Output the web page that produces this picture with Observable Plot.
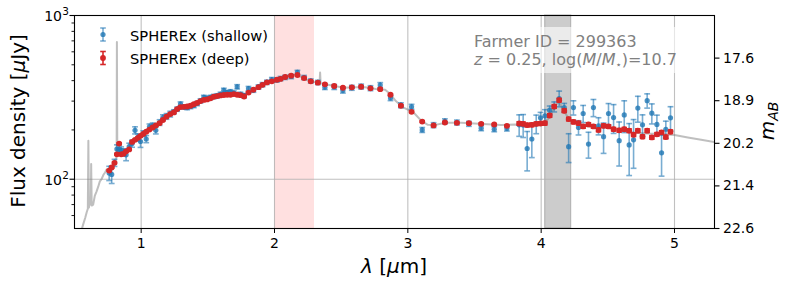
<!DOCTYPE html>
<html>
<head>
<meta charset="utf-8">
<script src="https://cdn.jsdelivr.net/npm/d3@7"></script>
<script src="https://cdn.jsdelivr.net/npm/@observablehq/plot@0.6"></script>
<style>
  body { margin: 0; background: #fff; }
  #chart { width: 788px; height: 289px; }
  svg { overflow: visible; }
</style>
</head>
<body>
<div id="chart"></div>
<script>
// ---------- data ----------
const wavelength = [
  0.760,0.779,0.800,0.818,0.835,0.850,0.867,0.887,0.910,0.932,0.954,0.976,0.995,1.016,1.038,1.062,1.086,1.110,
  1.138,1.163,1.190,1.218,1.245,1.270,1.295,1.320,1.345,1.370,1.395,1.420,1.445,1.470,1.495,1.520,1.545,1.570,1.595,1.620,
  1.645,1.670,1.695,1.720,1.745,1.772,1.805,1.842,1.880,1.910,1.943,1.980,2.018,2.045,2.080,2.125,2.172,2.222,2.272,2.325,2.378,
  2.448,2.513,2.580,2.650,2.720,2.793,2.870,2.948,3.028,3.108,3.193,3.278,3.368,3.458,3.550,3.648,3.743,
  3.835,3.865,3.895,3.930,3.963,3.995,4.028,4.064,4.098,4.135,4.173,4.206,4.242,4.280,4.315,4.355,4.392,4.430,
  4.468,4.505,4.543,4.585,4.623,4.660,4.693,4.725,4.760,4.795,4.830,4.868,4.903,4.935,4.970
];
const deepFlux = [
  113,118,126,142,165,142,143,148,152,169,174,179,184,189,195,201,207,213,
  220,230,241,250,256,268,276,277,278,281,287,293,300,305,307,312,319,322,325,327,
  328,328,331,328,326,320,338,352,365,377,390,396,405,410,421,429,433,415,396,389,380,
  371,362,364,367,359,355,328,281,258,225,213,222,221,220,218,216,212,
  219,218,214,215,218,219,220,245,278,304,262,233,224,220,210,216,210,200,
  212,210,202,199,202,198,187,198,182,198,180,188,193,181,195
];
const deepErrFrac = [
  .012,.012,.012,.012,.012,.012,.012,.012,.012,.012,.012,.012,.012,.012,.012,.012,.012,.012,
  .012,.012,.012,.012,.012,.012,.012,.012,.012,.012,.012,.012,.012,.012,.012,.012,.012,.012,.012,.012,
  .012,.012,.012,.012,.012,.012,.012,.012,.012,.012,.012,.012,.012,.012,.012,.012,.012,.012,.012,.012,.012,
  .012,.012,.012,.012,.012,.012,.012,.012,.012,.012,.012,.012,.012,.012,.012,.012,.012,
  .025,.025,.025,.025,.025,.025,.025,.025,.025,.025,.025,.025,.025,.025,.025,.025,.025,.025,
  .025,.025,.025,.025,.025,.025,.025,.025,.025,.025,.025,.025,.025,.025,.025
];
const shallowFlux = [
  109,107,126,153,152,150,146,141,158,165,199,180,170,190,176,209,212,199,
  222,238,242,250,258,268,288,276,274,278,282,290,301,316,312,316,320,323,330,349,
  338,342,336,367,330,324,358,350,366,378,391,406,404,412,419,424,449,418,398,390,364,
  366,348,362,368,360,376,313,283,277,200,214,226,222,218,205,202,204,
  215,214,154,176,218,237,244,264,277,311,274,158,274,207,252,164,274,212,
  182,252,238,172,247,162,174,272,215,302,253,216,145,202,237
];
const shallowErrFrac = [
  .10,.12,.05,.06,.06,.05,.05,.08,.05,.05,.05,.05,.08,.04,.05,.04,.04,.05,
  .04,.04,.04,.04,.03,.03,.03,.03,.03,.03,.03,.03,.03,.03,.03,.03,.03,.03,.03,.03,
  .03,.03,.03,.03,.03,.03,.03,.03,.03,.03,.03,.03,.03,.03,.03,.03,.03,.03,.03,.03,.03,
  .035,.035,.035,.035,.035,.035,.035,.035,.035,.035,.035,.035,.035,.035,.035,.035,.035,
  .15,.16,.27,.23,.13,.08,.09,.06,.07,.11,.06,.20,.10,.10,.12,.18,.12,.12,
  .21,.15,.20,.30,.22,.35,.33,.18,.15,.10,.14,.14,.28,.12,.17
];
const modelWavelength = [
  0.550,0.565,0.580,0.592,0.600,0.604,0.608,0.617,0.622,0.625,0.629,0.640,0.652,0.665,0.678,0.690,0.703,0.716,0.729,0.742,
  0.755,0.767,0.780,0.795,0.810,0.816,0.818,0.821,0.835,0.850,0.870,0.900,0.930,0.960,1.000,1.050,1.100,1.150,1.200,1.250,
  1.300,1.350,1.400,1.450,1.500,1.550,1.600,1.650,1.700,1.760,1.800,1.850,1.900,1.950,2.000,2.050,2.100,2.150,2.200,2.250,
  2.300,2.338,2.342,2.346,2.400,2.450,2.520,2.600,2.680,2.760,2.830,2.870,2.910,2.960,3.000,3.050,3.100,3.150,3.200,3.280,
  3.400,3.500,3.600,3.700,3.800,3.900,4.000,4.050,4.100,4.130,4.170,4.210,4.260,4.320,4.400,4.500,4.600,4.700,4.800,4.900,
  5.000,5.100,5.200,5.350
];
const modelFlux = [
  48,53,58,63,66,172,67,74,70,124,69,70,79,84,90,97,100,106,110,115,
  111,112,118,124,130,140,690,140,145,142,144,150,166,175,185,199,210,225,245,258,
  275,278,289,300,308,320,325,328,330,324,336,354,372,391,400,411,424,432,422,402,
  392,388,449,386,377,371,362,365,364,356,352,330,300,276,266,252,228,215,214,221,
  221,219,217,214,216,215,218,232,275,300,262,232,222,212,208,208,200,192,190,189,
  186,180,174,166
];
const highlightStart = [2.0, 4.03];
const highlightEnd   = [2.3, 4.225];
const xTicks = [1, 2, 3, 4, 5];
const yMajorTicks = [100, 1000];
const yMinorTicks = [60, 70, 80, 90, 200, 300, 400, 500, 600, 700, 800, 900];
const mabLabels = ["22.6", "21.4", "20.2", "18.9", "17.6"];
const legendLabels = ["SPHEREx (shallow)", "SPHEREx (deep)"];
const annotationLine1 = "Farmer ID = 299363";

// ---------- derived tables ----------
const yDomain = [50, 1000];
const deepRows = wavelength.map((x, i) => ({x, y: deepFlux[i], lo: deepFlux[i] * (1 - deepErrFrac[i]), hi: deepFlux[i] * (1 + deepErrFrac[i])}));
const shallowRows = wavelength.map((x, i) => ({x, y: shallowFlux[i], lo: shallowFlux[i] * (1 - shallowErrFrac[i]), hi: shallowFlux[i] * (1 + shallowErrFrac[i])}));
const modelRows = modelWavelength.map((x, i) => ({x, y: modelFlux[i]}));
const bandRows = highlightStart.map((x1, i) => ({x1, x2: highlightEnd[i]}));
// right-hand magnitude ticks sit at equal log steps of the flux axis
const mabRows = mabLabels.map((label, k) => ({ pos: yDomain[0] * Math.pow(yDomain[1] / yDomain[0], k / 5), label }));

const capSymbol = { draw(ctx, size) { const r = Math.sqrt(size / Math.PI); ctx.moveTo(-r, 0); ctx.lineTo(r, 0); } };

const BLUE = "#1f77b4", RED = "#d62728";

const W = 788, H = 289, ML = 74, MR = 74, MT = 15, MB = 61;

const chart = Plot.plot({
  width: W, height: H,
  marginLeft: ML, marginRight: MR, marginTop: MT, marginBottom: MB,
  style: { fontFamily: "'DejaVu Sans', sans-serif", fontSize: "14px", color: "black", background: "white" },
  x: { domain: [0.5, 5.3] },
  y: { type: "log", domain: yDomain, axis: null },
  marks: [
    Plot.rect(bandRows.slice(0, 1), { x1: "x1", x2: "x2", fill: "#ff0000", fillOpacity: 0.12 }),
    Plot.rect(bandRows.slice(1, 2), { x1: "x1", x2: "x2", fill: "#808080", fillOpacity: 0.4, stroke: "#808080", strokeOpacity: 0.45, strokeWidth: 1.2 }),
    Plot.ruleX(xTicks, { stroke: "#b0b0b0", strokeWidth: 1.1, strokeOpacity: 0.8 }),
    Plot.ruleY([100], { stroke: "#b0b0b0", strokeWidth: 1.1, strokeOpacity: 0.8 }),
    Plot.line(modelRows, { x: "x", y: "y", stroke: "#808080", strokeOpacity: 0.5, strokeWidth: 2, clip: true }),
    // shallow
    Plot.ruleX(shallowRows, { x: "x", y1: "lo", y2: "hi", stroke: BLUE, strokeOpacity: 0.6, strokeWidth: 1.6 }),
    Plot.dot(shallowRows, { x: "x", y: "lo", symbol: capSymbol, r: 2.9, fill: "none", stroke: BLUE, strokeOpacity: 0.6, strokeWidth: 1.6 }),
    Plot.dot(shallowRows, { x: "x", y: "hi", symbol: capSymbol, r: 2.9, fill: "none", stroke: BLUE, strokeOpacity: 0.6, strokeWidth: 1.6 }),
    Plot.dot(shallowRows, { x: "x", y: "y", r: 2.6, fill: BLUE, fillOpacity: 0.8, stroke: "none" }),
    // deep
    Plot.ruleX(deepRows, { x: "x", y1: "lo", y2: "hi", stroke: RED, strokeWidth: 1.5 }),
    Plot.dot(deepRows, { x: "x", y: "lo", symbol: capSymbol, r: 2.7, fill: "none", stroke: RED, strokeWidth: 1.5 }),
    Plot.dot(deepRows, { x: "x", y: "hi", symbol: capSymbol, r: 2.7, fill: "none", stroke: RED, strokeWidth: 1.5 }),
    Plot.dot(deepRows, { x: "x", y: "y", r: 2.9, fill: RED, stroke: "none" }),
    Plot.frame({ stroke: "black", strokeWidth: 1.1 }),
    Plot.axisX({ ticks: xTicks, tickSize: 5, tickPadding: 5, tickFormat: d => String(d), label: null, fontSize: 14 }),
    // left ticks (major + minor) drawn as short horizontal strokes outside the frame
    Plot.dot(yMajorTicks, { y: d => d, frameAnchor: "left", dx: -2.5, symbol: capSymbol, r: 2.5, fill: "none", stroke: "black", strokeWidth: 1.1 }),
    Plot.dot(yMinorTicks, { y: d => d, frameAnchor: "left", dx: -1.5, symbol: capSymbol, r: 1.5, fill: "none", stroke: "black", strokeWidth: 0.9 }),
    Plot.text(yMajorTicks, { y: d => d, text: () => "10", frameAnchor: "left", textAnchor: "end", dx: -12.5, dy: 1.5, fontSize: 14 }),
    Plot.text(yMajorTicks, { y: d => d, text: d => String(Math.round(Math.log10(d))), frameAnchor: "left", textAnchor: "start", dx: -12.3, dy: -3.5, fontSize: 10.5 }),
    // right magnitude axis
    Plot.dot(mabRows, { y: "pos", frameAnchor: "right", dx: 2.5, symbol: capSymbol, r: 2.5, fill: "none", stroke: "black", strokeWidth: 1.1 }),
    Plot.text(mabRows, { y: "pos", text: "label", frameAnchor: "right", textAnchor: "start", dx: 8.5, fontSize: 14 })
  ]
});
document.getElementById("chart").appendChild(chart);

// ---------- overlays: axis labels, legend, annotation ----------
const svg = d3.select(chart);
const FONT = "'DejaVu Sans', sans-serif";

// y label (left)
const yl = svg.append("text").attr("transform", "translate(24.5,121) rotate(-90)")
  .attr("text-anchor", "middle").attr("font-family", FONT).attr("font-size", 20).attr("fill", "black");
yl.append("tspan").text("Flux density [");
yl.append("tspan").attr("font-style", "italic").text("μ");
yl.append("tspan").text("Jy]");

// x label
const xl = svg.append("text").attr("x", 394).attr("y", 272.5)
  .attr("text-anchor", "middle").attr("font-family", FONT).attr("font-size", 20).attr("fill", "black");
xl.append("tspan").attr("font-style", "italic").text("λ");
xl.append("tspan").text(" [");
xl.append("tspan").attr("font-style", "italic").text("μ");
xl.append("tspan").text("m]");

// right label m_AB
const rl = svg.append("text").attr("transform", "translate(774,121) rotate(-90)")
  .attr("text-anchor", "middle").attr("font-family", FONT).attr("font-size", 20).attr("fill", "black");
rl.append("tspan").attr("font-style", "italic").text("m");
rl.append("tspan").attr("font-style", "italic").attr("font-size", 14).attr("dy", 4).text("AB");

// legend
const lg = svg.append("g");
const handles = [{c: BLUE, op: 0.6, dop: 0.8, cy: 34.5, r: 2.6}, {c: RED, op: 1, dop: 1, cy: 58, r: 2.9}];
handles.forEach((h, i) => {
  lg.append("line").attr("x1", 103).attr("x2", 103).attr("y1", h.cy - 6.5).attr("y2", h.cy + 6.5)
    .attr("stroke", h.c).attr("stroke-opacity", h.op).attr("stroke-width", 1.6);
  [h.cy - 6.5, h.cy + 6.5].forEach(yy => lg.append("line").attr("x1", 100.2).attr("x2", 105.8).attr("y1", yy).attr("y2", yy)
    .attr("stroke", h.c).attr("stroke-opacity", h.op).attr("stroke-width", 1.6));
  lg.append("circle").attr("cx", 103).attr("cy", h.cy).attr("r", h.r).attr("fill", h.c).attr("fill-opacity", h.dop);
  lg.append("text").attr("x", 130).attr("y", h.cy + 6).attr("text-anchor", "start").attr("font-family", FONT).attr("font-size", 14.7)
    .attr("fill", "black").text(legendLabels[i]);
});

// annotation box
svg.append("rect").attr("x", 468).attr("y", 27).attr("width", 211).attr("height", 46)
  .attr("fill", "white").attr("fill-opacity", 0.6);
svg.append("text").attr("x", 474).attr("y", 46.7).attr("text-anchor", "start").attr("font-family", FONT).attr("font-size", 16)
  .attr("fill", "#808080").text(annotationLine1);
const a2 = svg.append("text").attr("x", 474).attr("y", 65).attr("text-anchor", "start").attr("font-family", FONT).attr("font-size", 16).attr("fill", "#808080");
a2.append("tspan").attr("font-style", "italic").text("z");
a2.append("tspan").text(" = 0.25, log(");
a2.append("tspan").attr("font-style", "italic").text("M");
a2.append("tspan").text("/");
a2.append("tspan").attr("font-style", "italic").text("M");
a2.append("tspan").attr("font-size", 10).attr("dy", 3).text("⋆");
a2.append("tspan").attr("dy", -3).text(")=10.7");
</script>
</body>
</html>
